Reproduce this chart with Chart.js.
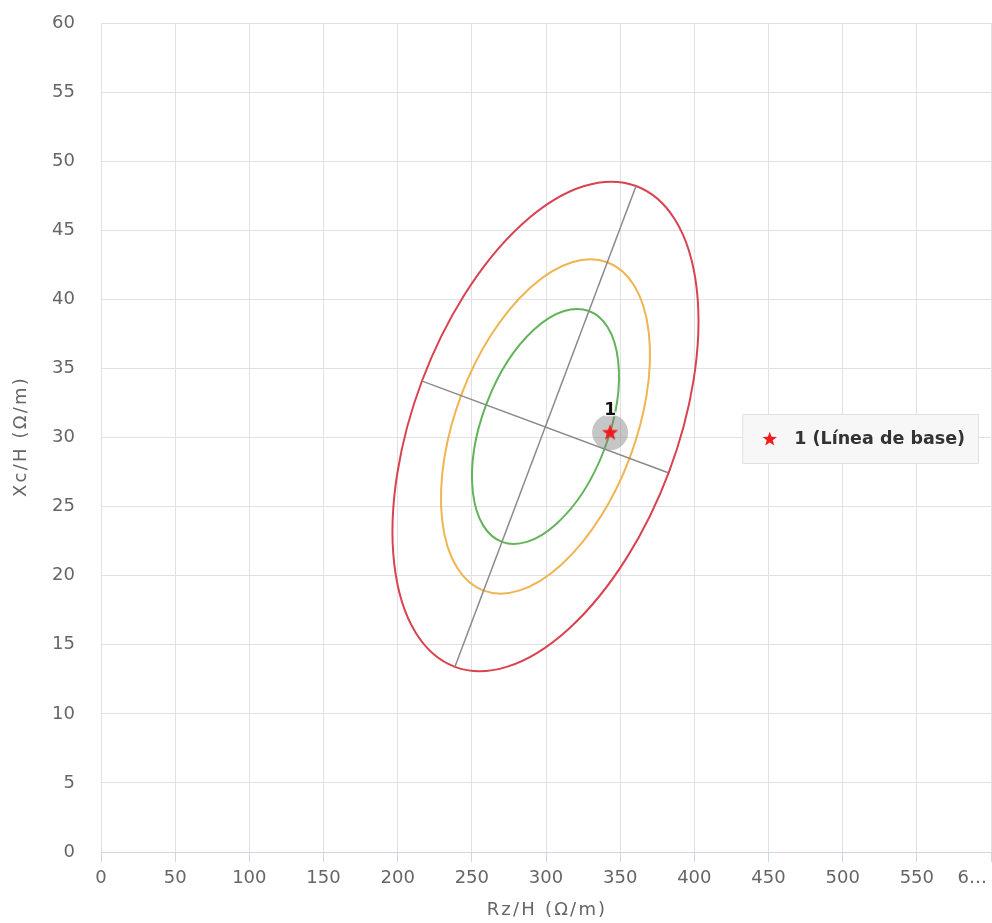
<!DOCTYPE html>
<html>
<head>
<meta charset="utf-8">
<script src="https://cdn.jsdelivr.net/npm/chart.js@4"></script>
<style>
  html, body { margin: 0; padding: 0; background: #ffffff; }
  #wrap { width: 992px; height: 923px; }
</style>
</head>
<body>
<div id="wrap"><canvas id="chart" width="992" height="923"></canvas></div>
<script>
const FONT = "'DejaVu Sans', 'Liberation Sans', sans-serif";
const TEXT_GREY = '#666666';
const GRID_GREY = '#e1e1e4';

// Axis ticks
const xTickValues = [0, 50, 100, 150, 200, 250, 300, 350, 400, 450, 500, 550, 600];
const xTickLabels = ['0', '50', '100', '150', '200', '250', '300', '350', '400', '450', '500', '550', '6…'];
const yTickValues = [0, 5, 10, 15, 20, 25, 30, 35, 40, 45, 50, 55, 60];
const yTickLabels = ['0', '5', '10', '15', '20', '25', '30', '35', '40', '45', '50', '55', '60'];
const xTitle = 'Rz/H (Ω/m)';
const yTitle = 'Xc/H (Ω/m)';

// Principal axes of the outer tolerance ellipse (end points, Rz/H, Xc/H)
const majorAxis = [[238.6, 13.4], [360.7, 48.2]];
const minorAxis = [[216.1, 34.1], [382.4, 27.45]];
// Relative size of each tolerance ellipse (outer, middle, inner)
const ellipseScales = [1, 0.683, 0.48];
const ellipseColors = ['#d9434f', '#f0b450', '#63b35a'];

// Baseline measurement
const baselinePoint = [343.2, 30.37];
const baselineLabel = '1';
const legendText = '1 (Línea de base)';
const starColor = '#f01c1c';

function traceStar(g, cx, cy, R) {
  const r = R * 0.42;
  g.beginPath();
  for (let i = 0; i < 10; i++) {
    const a = -Math.PI / 2 + i * Math.PI / 5;
    const rad = i % 2 ? r : R;
    g.lineTo(cx + rad * Math.cos(a), cy + rad * Math.sin(a));
  }
  g.closePath();
}

function starImage(R, color) {
  const size = Math.ceil(R * 2 + 2);
  const cv = document.createElement('canvas');
  cv.width = size; cv.height = size;
  const g = cv.getContext('2d');
  traceStar(g, size / 2, size / 2 + R * 0.05, R);
  g.fillStyle = color;
  g.fill();
  return cv;
}

const markerStar = starImage(8.6, starColor);

// Tolerance ellipses: unit circle mapped onto the conjugate semi-axes in pixel space
const ellipsePlugin = {
  id: 'toleranceEllipses',
  beforeDatasetsDraw(chart) {
    const { ctx, chartArea, scales: { x, y } } = chart;
    const cx = (x.getPixelForValue(majorAxis[0][0]) + x.getPixelForValue(majorAxis[1][0])) / 2;
    const cy = (y.getPixelForValue(majorAxis[0][1]) + y.getPixelForValue(majorAxis[1][1])) / 2;
    const ax = (x.getPixelForValue(majorAxis[1][0]) - x.getPixelForValue(majorAxis[0][0])) / 2;
    const ay = (y.getPixelForValue(majorAxis[1][1]) - y.getPixelForValue(majorAxis[0][1])) / 2;
    const bx = (x.getPixelForValue(minorAxis[1][0]) - x.getPixelForValue(minorAxis[0][0])) / 2;
    const by = (y.getPixelForValue(minorAxis[1][1]) - y.getPixelForValue(minorAxis[0][1])) / 2;
    ctx.save();
    ctx.beginPath();
    ctx.rect(chartArea.left, chartArea.top, chartArea.width, chartArea.height);
    ctx.clip();
    ellipseScales.forEach((k, i) => {
      ctx.beginPath();
      ctx.save();
      ctx.transform(ax * k, ay * k, bx * k, by * k, cx, cy);
      ctx.arc(0, 0, 1, 0, Math.PI * 2);
      ctx.restore();
      ctx.lineWidth = 2;
      ctx.strokeStyle = ellipseColors[i];
      ctx.stroke();
    });
    ctx.restore();
  }
};

// Point label above the baseline star
const pointLabelPlugin = {
  id: 'pointLabel',
  afterDatasetsDraw(chart) {
    const el = chart.getDatasetMeta(2).data[0];
    if (!el) return;
    const { ctx } = chart;
    ctx.save();
    ctx.font = `bold 17px ${FONT}`;
    ctx.textAlign = 'center';
    ctx.textBaseline = 'middle';
    ctx.lineWidth = 2.5;
    ctx.strokeStyle = 'rgba(255,255,255,0.8)';
    ctx.strokeText(baselineLabel, el.x, el.y - 22);
    ctx.fillStyle = '#111';
    ctx.fillText(baselineLabel, el.x, el.y - 22);
    ctx.restore();
  }
};

// Axis titles, the shortened last x tick label and the floating legend box
const overlayPlugin = {
  id: 'overlay',
  afterDraw(chart) {
    const { ctx, chartArea } = chart;
    ctx.save();
    ctx.fillStyle = TEXT_GREY;
    ctx.textBaseline = 'middle';

    // last x tick label, kept inside the canvas
    ctx.font = `18px ${FONT}`;
    ctx.textAlign = 'right';
    ctx.fillText(xTickLabels[xTickLabels.length - 1], chart.width - 5, chartArea.bottom + 16 + 10.8);

    // axis titles
    ctx.letterSpacing = '2.2px';
    ctx.textAlign = 'center';
    ctx.fillText(xTitle, (chartArea.left + chartArea.right) / 2 + 1, chart.height - 13);
    ctx.save();
    ctx.translate(21, (chartArea.top + chartArea.bottom) / 2);
    ctx.rotate(-Math.PI / 2);
    ctx.fillText(yTitle, 1, 0);
    ctx.restore();
    ctx.letterSpacing = '0px';

    // legend
    ctx.font = `bold 17.5px ${FONT}`;
    const tw = ctx.measureText(legendText).width;
    const right = chart.width - 14;
    const left = right - 13 - tw - 52;
    const midY = (chartArea.top + chartArea.bottom) / 2 + 1;
    const h = 49;
    const top = midY - h / 2;
    ctx.beginPath();
    ctx.rect(left + 0.5, top + 0.5, right - left, h);
    ctx.fillStyle = '#f7f7f7';
    ctx.fill();
    ctx.strokeStyle = '#e0e0e0';
    ctx.lineWidth = 1;
    ctx.stroke();
    traceStar(ctx, left + 27.5, midY + 0.8, 7.6);
    ctx.fillStyle = starColor;
    ctx.fill();
    ctx.fillStyle = '#333';
    ctx.textAlign = 'left';
    ctx.fillText(legendText, left + 52, midY + 1);
    ctx.restore();
  }
};

const pt = p => ({ x: p[0], y: p[1] });

new Chart(document.getElementById('chart'), {
  type: 'scatter',
  data: {
    datasets: [
      {
        data: majorAxis.map(pt),
        showLine: true, borderColor: '#8a8a8a', borderWidth: 1.5, pointRadius: 0
      },
      {
        data: minorAxis.map(pt),
        showLine: true, borderColor: '#8a8a8a', borderWidth: 1.5, pointRadius: 0
      },
      {
        data: [pt(baselinePoint)],
        pointStyle: markerStar, pointRadius: 9
      },
      {
        data: [pt(baselinePoint)],
        pointRadius: 18, pointBackgroundColor: 'rgba(128,128,128,0.45)', pointBorderWidth: 0,
        pointBorderColor: 'rgba(0,0,0,0)'
      }
    ]
  },
  options: {
    responsive: false,
    animation: false,
    devicePixelRatio: 1,
    events: [],
    layout: { autoPadding: false, padding: { top: 23, right: 1, left: 0, bottom: 0 } },
    plugins: { legend: { display: false }, tooltip: { enabled: false } },
    scales: {
      x: {
        type: 'linear', min: 0, max: 600,
        afterBuildTicks(s) { s.ticks = xTickValues.map(v => ({ value: v })); },
        afterFit(s) { s.height = 71; s.paddingLeft = 0; s.paddingRight = 0; },
        grid: { color: GRID_GREY, tickColor: '#ccd6eb', tickLength: 10, drawTicks: true },
        border: { color: '#ccd6eb', width: 1 },
        ticks: {
          padding: 6, color: TEXT_GREY, font: { family: FONT, size: 18 },
          maxRotation: 0, autoSkip: false,
          callback: (v, i) => (i === xTickLabels.length - 1 ? '' : xTickLabels[i])
        },
        title: { display: false }
      },
      y: {
        type: 'linear', min: 0, max: 60,
        afterBuildTicks(s) { s.ticks = yTickValues.map(v => ({ value: v })); },
        afterFit(s) { s.width = 101; s.paddingTop = 0; s.paddingBottom = 0; },
        grid: { color: GRID_GREY, drawTicks: false },
        border: { display: false },
        ticks: {
          padding: 26, color: TEXT_GREY, font: { family: FONT, size: 18 },
          callback: (v, i) => yTickLabels[i]
        },
        title: { display: false }
      }
    }
  },
  plugins: [ellipsePlugin, pointLabelPlugin, overlayPlugin]
});
</script>
</body>
</html>
